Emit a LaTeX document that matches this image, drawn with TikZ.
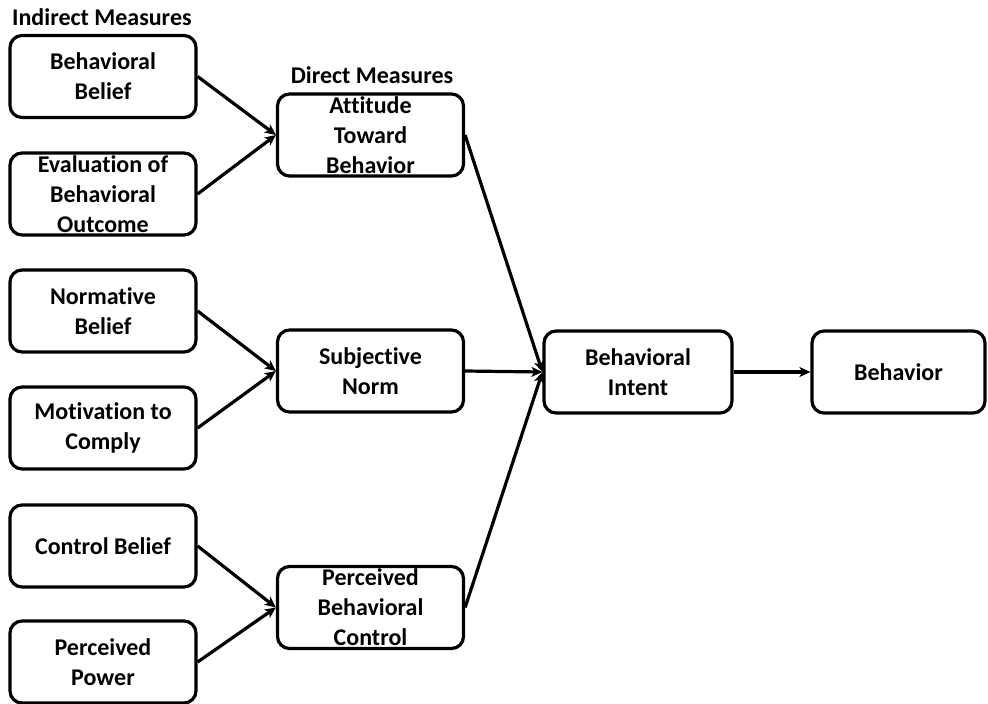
\documentclass[tikz,border=0pt]{standalone}
\usepackage{fontspec}
\setmainfont{Carlito}[Ligatures=NoCommon]
\usepackage{tikz}
\usetikzlibrary{arrows.meta,positioning}

\begin{document}
\begin{tikzpicture}[x=1pt,y=-1pt,>={Stealth[length=11pt,width=10pt,inset=3pt]},
  every node/.style={font=\bfseries\fontsize{24}{30}\selectfont},
  box/.style={draw,line width=3.2pt,rounded corners=12pt,minimum width=186pt,minimum height=82pt,inner sep=0pt},
  txt/.style={align=center,inner sep=0pt},
  link/.style={->,line width=3.2pt}]
\useasboundingbox (0,0) rectangle (988,704);
% headings
\node[anchor=base west,inner sep=0pt] (indirect) at (12,25) {Indirect Measures};
\node[anchor=base,inner sep=0pt] (direct) at (372,83) {Direct Measures};
% indirect measures
\node[box] (bb) at (103,76.5) {};
\node[txt] (bb-t) at (bb) {Behavioral\\Belief};
\node[box] (ebo) at (103,194) {};
\node[txt] (ebo-t) at (ebo) {Evaluation of\\Behavioral\\Outcome};
\node[box] (nb) at (103,311) {};
\node[txt] (nb-t) at (nb) {Normative\\Belief};
\node[box] (mtc) at (103,428) {};
\node[txt] (mtc-t) at (mtc) {Motivation to\\Comply};
\node[box] (cb) at (103,546) {};
\node[txt] (cb-t) at (cb) {Control Belief};
\node[box] (pp) at (103,662) {};
\node[txt] (pp-t) at (pp) {Perceived\\Power};
% direct measures
\node[box] (att) at (370.5,135) {};
\node[txt] (att-t) at (att) {Attitude\\Toward\\Behavior};
\node[box] (sn) at (370.5,371) {};
\node[txt] (sn-t) at (sn) {Subjective\\Norm};
\node[box] (pbc) at (370.5,607.5) {};
\node[txt] (pbc-t) at (pbc) {Perceived\\Behavioral\\Control};
% intent and behavior
\node[box,minimum width=188pt] (intent) at (638,372) {};
\node[txt] (intent-t) at (intent) {Behavioral\\Intent};
\node[box,minimum width=173pt] (beh) at (898.5,372) {};
\node[txt] (beh-t) at (beh) {Behavior};
% links
\draw[link] (bb.east) -- (att.west);
\draw[link] (ebo.east) -- (att.west);
\draw[link] (nb.east) -- (sn.west);
\draw[link] (mtc.east) -- (sn.west);
\draw[link] (cb.east) -- (pbc.west);
\draw[link] (pp.east) -- (pbc.west);
\draw[link] (att.east) -- (intent.west);
\draw[link] (sn.east) -- (intent.west);
\draw[link] (pbc.east) -- (intent.west);
\draw[link] (intent.east) -- (beh.west);
\end{tikzpicture}
\end{document}
